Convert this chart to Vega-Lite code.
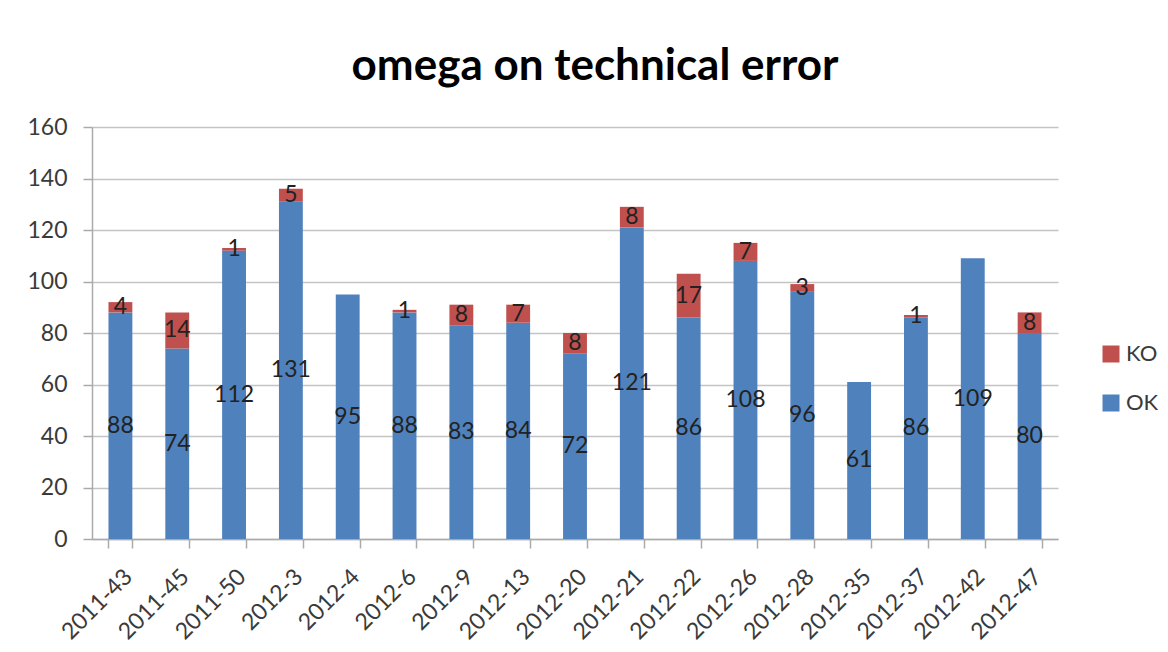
{
  "$schema": "https://vega.github.io/schema/vega-lite/v6.json",
  "autosize": "none",
  "width": 966,
  "height": 412,
  "padding": {"left": 92, "top": 127, "right": 110, "bottom": 113},
  "background": "white",
  "title": {
    "text": "omega on technical error",
    "font": "Lato",
    "fontSize": 44,
    "fontWeight": "bold",
    "color": "#000000",
    "anchor": "middle",
    "dx": 20,
    "offset": 27
  },
  "config": {
    "view": {"stroke": null},
    "font": "Lato"
  },
  "data": {
    "values": [
      {"week": "2011-43", "type": "OK", "value": 88},
      {"week": "2011-43", "type": "KO", "value": 4},
      {"week": "2011-45", "type": "OK", "value": 74},
      {"week": "2011-45", "type": "KO", "value": 14},
      {"week": "2011-50", "type": "OK", "value": 112},
      {"week": "2011-50", "type": "KO", "value": 1},
      {"week": "2012-3", "type": "OK", "value": 131},
      {"week": "2012-3", "type": "KO", "value": 5},
      {"week": "2012-4", "type": "OK", "value": 95},
      {"week": "2012-6", "type": "OK", "value": 88},
      {"week": "2012-6", "type": "KO", "value": 1},
      {"week": "2012-9", "type": "OK", "value": 83},
      {"week": "2012-9", "type": "KO", "value": 8},
      {"week": "2012-13", "type": "OK", "value": 84},
      {"week": "2012-13", "type": "KO", "value": 7},
      {"week": "2012-20", "type": "OK", "value": 72},
      {"week": "2012-20", "type": "KO", "value": 8},
      {"week": "2012-21", "type": "OK", "value": 121},
      {"week": "2012-21", "type": "KO", "value": 8},
      {"week": "2012-22", "type": "OK", "value": 86},
      {"week": "2012-22", "type": "KO", "value": 17},
      {"week": "2012-26", "type": "OK", "value": 108},
      {"week": "2012-26", "type": "KO", "value": 7},
      {"week": "2012-28", "type": "OK", "value": 96},
      {"week": "2012-28", "type": "KO", "value": 3},
      {"week": "2012-35", "type": "OK", "value": 61},
      {"week": "2012-37", "type": "OK", "value": 86},
      {"week": "2012-37", "type": "KO", "value": 1},
      {"week": "2012-42", "type": "OK", "value": 109},
      {"week": "2012-47", "type": "OK", "value": 80},
      {"week": "2012-47", "type": "KO", "value": 8}
    ]
  },
  "encoding": {
    "x": {
      "field": "week",
      "type": "nominal",
      "sort": null,
      "scale": {"paddingInner": 0.58, "paddingOuter": 0.29},
      "axis": {
        "title": null,
        "labelAngle": -45,
        "labelFont": "Lato",
        "labelFontSize": 23,
        "labelColor": "#3a3a3a",
        "labelPadding": 17,
        "labelOverlap": false,
        "tickBand": "extent",
        "tickSize": 9,
        "tickColor": "#aaaaaa",
        "tickWidth": 1.5,
        "domainColor": "#aaaaaa",
        "domainWidth": 1.5,
        "grid": false
      }
    },
    "y": {
      "field": "value",
      "type": "quantitative",
      "stack": "zero",
      "scale": {"domain": [0, 160], "nice": false},
      "axis": {
        "title": null,
        "values": [0, 20, 40, 60, 80, 100, 120, 140, 160],
        "labelFont": "Lato",
        "labelFontSize": 23,
        "labelColor": "#3a3a3a",
        "labelPadding": 16,
        "tickSize": 9,
        "tickColor": "#aaaaaa",
        "tickWidth": 1.5,
        "domainColor": "#aaaaaa",
        "domainWidth": 1.5,
        "grid": true,
        "gridColor": "#c4c4c4",
        "gridWidth": 1.5
      }
    },
    "order": {"field": "type", "sort": "descending"}
  },
  "layer": [
    {
      "mark": {"type": "bar"},
      "encoding": {
        "color": {
          "field": "type",
          "type": "nominal",
          "scale": {"domain": ["KO", "OK"], "range": ["#C0504D", "#4F81BD"]},
          "legend": {
            "title": null,
            "orient": "none",
            "legendX": 1008,
            "legendY": 216,
            "symbolType": "square",
            "symbolSize": 289,
            "symbolStrokeWidth": 0,
            "labelFont": "Lato",
            "labelFontSize": 22,
            "labelColor": "#3a3a3a",
            "labelOffset": 4,
            "rowPadding": 27
          }
        }
      }
    },
    {
      "mark": {"type": "text", "font": "Lato", "fontSize": 23, "color": "#222222", "baseline": "middle"},
      "encoding": {
        "y": {"field": "value", "type": "quantitative", "stack": "zero", "bandPosition": 0.5},
        "text": {"field": "value", "type": "quantitative"}
      }
    }
  ]
}
